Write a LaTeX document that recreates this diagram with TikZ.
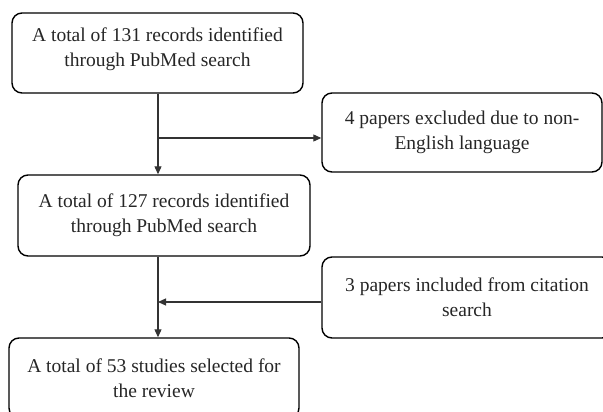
\documentclass[tikz,border=0pt]{standalone}
\usepackage{fontspec}
\setmainfont{Liberation Serif}
\usetikzlibrary{arrows.meta}
\begin{document}
\begin{tikzpicture}[x=1pt,y=-1pt,
  box/.style={draw=black, line width=1.4pt, rounded corners=10pt, align=center,
    inner sep=0pt, font=\fontsize{19.5}{25}\selectfont, text=black!85},
  conn/.style={draw=black!80, line width=1.1pt, -{Triangle[length=8pt,width=7pt]}}]
\useasboundingbox (0,0) rectangle (603,412);
\clip (0,0) rectangle (603,412);
\node[box, minimum width=291pt, minimum height=80pt, text depth=12pt] (b1) at (157.5,53) {A total of 131 records identified\\through PubMed search};
\node[box, minimum width=280pt, minimum height=79pt] (b2) at (462,132.5) {4 papers excluded due to non-\\English language};
\node[box, minimum width=292pt, minimum height=81pt] (b3) at (164,215.5) {A total of 127 records identified\\through PubMed search};
\node[box, minimum width=290pt, minimum height=80pt] (b4) at (154,378) {A total of 53 studies selected for\\the review};
\node[box, minimum width=290pt, minimum height=81pt] (b5) at (467,297.5) {3 papers included from citation\\search};
\coordinate (j1) at (158,138);
\coordinate (j2) at (158,302);
\draw[conn] (b1.south -| j1) -- (b3.north -| j1);
\draw[conn] (j1) -- (b2.west |- j1);
\draw[conn] (b3.south -| j2) -- (b4.north -| j2);
\draw[conn] (b5.west |- j2) -- (j2);
\end{tikzpicture}
\end{document}
